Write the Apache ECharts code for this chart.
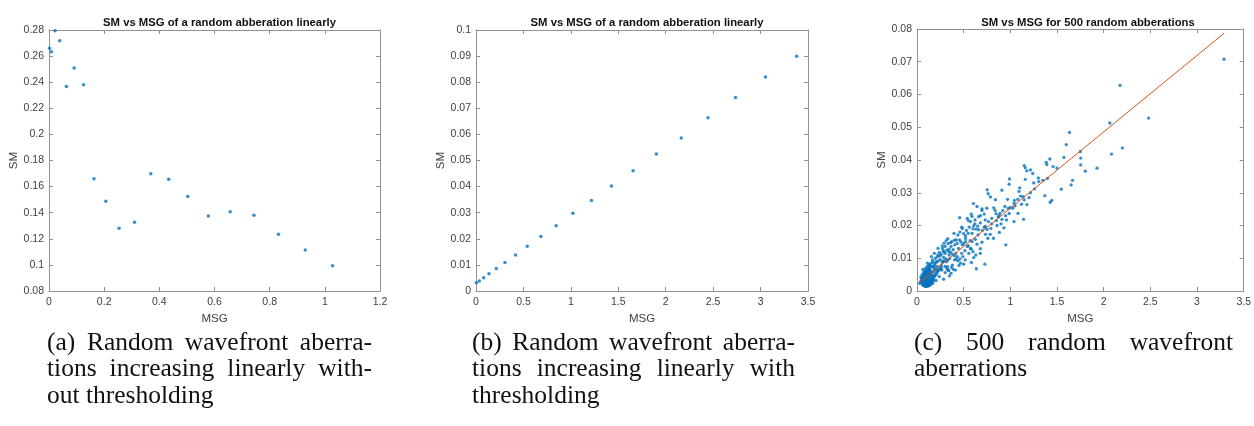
<!DOCTYPE html>
<html>
<head>
<meta charset="utf-8">
<script src="https://cdn.jsdelivr.net/npm/echarts@6/dist/echarts.min.js"></script>
<style>
html,body{margin:0;padding:0;background:#fff;}
#chart{width:1254px;height:426px;}
</style>
</head>
<body>
<div id="chart"></div>
<script>
// ---------- DATA ----------
var titles = [
  'SM vs MSG of a random abberation linearly',
  'SM vs MSG of a random abberation linearly',
  'SM vs MSG for 500 random abberations'
];
var xAxisName = 'MSG';
var yAxisName = 'SM';

// (a) without thresholding
var msgA = [0.002,0.0085,0.022,0.039,0.063,0.091,0.125,0.163,0.206,0.254,0.310,0.369,0.434,0.503,0.578,0.657,0.743,0.832,0.929,1.028];
var smA  = [0.2660,0.2634,0.2795,0.2718,0.2368,0.2509,0.2381,0.1661,0.1487,0.1280,0.1326,0.1699,0.1656,0.1525,0.1375,0.1408,0.1380,0.1234,0.1114,0.0994];

// (b) with thresholding
var msgB = [0.0035,0.035,0.081,0.137,0.214,0.305,0.417,0.540,0.684,0.845,1.021,1.217,1.428,1.656,1.901,2.164,2.445,2.736,3.052,3.381];
var smB  = [0.0032,0.0038,0.0051,0.0066,0.0086,0.0109,0.0138,0.0171,0.0209,0.0250,0.0298,0.0347,0.0402,0.0461,0.0525,0.0586,0.0664,0.0741,0.0820,0.0899];

// (c) 500 random aberrations
var pointsC = [
[3.289,0.0708],[2.175,0.0628],[2.481,0.0528],[2.066,0.0513],[2.200,0.0437],[2.084,0.0418],
[1.634,0.0484],[1.599,0.0447],[1.574,0.0408],[1.750,0.0426],[1.754,0.0406],[1.754,0.0385],
[1.803,0.0366],[1.929,0.0375],[1.666,0.0338],[1.651,0.0324],[1.546,0.0311],[1.500,0.0375],
[1.458,0.0380],[1.423,0.0403],[1.384,0.0393],[1.391,0.0386],[1.398,0.0344],[1.349,0.0338],
[1.304,0.0334],[1.370,0.0291],[1.444,0.0277],[1.427,0.0271],[1.258,0.0312],[1.216,0.0300],
[1.240,0.0359],[1.216,0.0370],[1.177,0.0367],[1.160,0.0341],[1.149,0.0383],[1.160,0.0376],
[1.093,0.0304],[1.110,0.0290],[1.138,0.0288],[1.149,0.0278],[1.177,0.0264],[1.142,0.0219],
[0.991,0.0342],[0.987,0.0326],[0.910,0.0308],[0.752,0.0309],[0.762,0.0297],[0.787,0.0287],
[0.840,0.0279],[1.044,0.0277],[1.040,0.0268],[1.026,0.0253],[0.977,0.0252],[0.987,0.0237],
[1.040,0.0212],[0.952,0.0141],[0.604,0.0267],[0.643,0.0258],[0.696,0.0251],[0.822,0.0254],
[0.836,0.0246],[0.847,0.0236],[0.871,0.0226],[0.910,0.0219],[0.931,0.0193],[0.882,0.0179],
[0.857,0.0200],[0.791,0.0191],[0.734,0.0173],[0.696,0.0149],[0.727,0.0082],[0.636,0.0068],
[0.457,0.0224],[0.485,0.0191],[0.590,0.0228],[0.622,0.0217],[0.660,0.0227],[0.678,0.0208],
[0.608,0.0199],[0.632,0.0189],[0.590,0.0176],[0.654,0.0171],[0.569,0.0154],[0.643,0.0143],
[0.678,0.0129],[0.678,0.0115],[0.608,0.0102],[0.583,0.0087],[0.517,0.0095],[0.513,0.0123],
[0.446,0.0130],[0.422,0.0156],[0.439,0.0171],[0.520,0.0168],[0.404,0.0141],[0.387,0.0126],
[0.415,0.0115],[0.404,0.0095],[0.411,0.0064],[0.348,0.0046],[0.313,0.0154],[0.334,0.0145],
[0.365,0.0136],[0.292,0.0120],[0.285,0.0103],[0.316,0.0089],[0.260,0.0079],[0.214,0.0062],
[0.225,0.0130],[0.186,0.0115],[0.165,0.0095],[0.134,0.0079],[0.112,0.0085],[0.095,0.0056],
[0.239,0.0044],[0.285,0.0036],[0.123,0.0069],[0.155,0.0105],[0.246,0.0107],[0.204,0.0090],
[0.267,0.0064],[0.327,0.0074],[0.365,0.0054],[0.467,0.0085],[0.485,0.0141],[0.538,0.0136],
[0.548,0.0176],[0.397,0.0176],[0.344,0.0110],[0.176,0.0044],[0.148,0.0054],[0.186,0.0064],
[0.063,0.0066],[0.053,0.0049],[0.074,0.0039],[0.105,0.0034],[0.134,0.0029],[0.046,0.0029],
[0.028,0.0023],[0.063,0.0018],[0.091,0.0015],[0.116,0.0015],[0.141,0.0018],[0.169,0.0023],
[0.204,0.0032],[0.084,0.0025],[0.105,0.0021],[0.127,0.0023],[0.155,0.0036],[0.056,0.0034],
[0.081,0.0046],[0.098,0.0044],[0.119,0.0048],[0.144,0.0046],[0.042,0.0042],[0.070,0.0056],
[0.091,0.0069],[0.109,0.0061],[0.134,0.0062],[0.169,0.0074],[0.193,0.0079],[0.221,0.0074],
[0.197,0.0100],[0.225,0.0110],[0.274,0.0130],[0.302,0.0136],[0.344,0.0128],[0.372,0.0151],
[0.281,0.0090],[0.239,0.0064],[0.302,0.0056],[0.334,0.0064],[0.379,0.0079],[0.432,0.0105],
[0.478,0.0115],[0.492,0.0105],[0.555,0.0115],[0.573,0.0130],[0.520,0.0151],[0.457,0.0156],
[0.590,0.0151],[0.625,0.0158],[0.660,0.0187],[0.731,0.0197],[0.766,0.0212],[0.801,0.0222],
[0.731,0.0217],[0.696,0.0246],[0.748,0.0253],[0.784,0.0173],[0.819,0.0161],[0.759,0.0161],
[0.942,0.0258],[0.959,0.0217],[0.889,0.0237],[1.082,0.0237],[0.538,0.0222],[0.573,0.0212],
[0.040,0.0030],[0.050,0.0025],[0.060,0.0020],[0.070,0.0022],[0.080,0.0019],[0.090,0.0021],
[0.100,0.0018],[0.110,0.0020],[0.120,0.0022],[0.130,0.0019],[0.140,0.0024],[0.150,0.0021],
[0.060,0.0030],[0.070,0.0034],[0.080,0.0028],[0.090,0.0031],[0.100,0.0027],[0.110,0.0030],
[0.120,0.0033],[0.130,0.0029],[0.140,0.0032],[0.160,0.0028],[0.170,0.0030],[0.050,0.0038],
[0.060,0.0042],[0.070,0.0040],[0.080,0.0037],[0.090,0.0044],[0.100,0.0040],[0.110,0.0039],
[0.120,0.0043],[0.130,0.0041],[0.150,0.0038],[0.180,0.0035],[0.070,0.0050],[0.080,0.0054],
[0.090,0.0049],[0.100,0.0052],[0.110,0.0056],[0.120,0.0050],[0.140,0.0053],[0.160,0.0049],
[0.190,0.0045],[0.080,0.0060],[0.100,0.0063],[0.120,0.0058],[0.130,0.0066],[0.150,0.0061],
[0.170,0.0058],[0.200,0.0055],[0.085,0.0016],[0.095,0.0014],[0.105,0.0016],[0.115,0.0015],
[0.125,0.0017],[0.075,0.0016],[0.065,0.0026],[0.135,0.0026],[0.145,0.0028],[0.155,0.0033],
[0.165,0.0038],[0.175,0.0042],[0.185,0.0048],[0.210,0.0051],[0.220,0.0058],[0.230,0.0065],
[0.250,0.0068],[0.260,0.0072],[0.200,0.0068],[0.180,0.0072],[0.160,0.0076],[0.140,0.0072],
[0.120,0.0070],[0.110,0.0075],[0.130,0.0080],[0.150,0.0085],[0.170,0.0088],[0.190,0.0083],
[0.210,0.0088],[0.230,0.0092],[0.250,0.0096],[0.270,0.0088],[0.290,0.0093],[0.310,0.0098],
[0.330,0.0094],[0.350,0.0099],[0.220,0.0105],[0.240,0.0118],[0.260,0.0112],[0.280,0.0122],
[0.300,0.0115],[0.320,0.0125],[0.340,0.0120],[0.360,0.0118],[0.380,0.0112],[0.400,0.0108],
[0.420,0.0098],[0.440,0.0092],[0.460,0.0098],[0.300,0.0075],[0.320,0.0068],[0.340,0.0062],
[0.370,0.0072],[0.390,0.0066],[0.450,0.0078],[0.500,0.0082],[0.270,0.0138],[0.290,0.0146],
[0.330,0.0160],[0.360,0.0148],[0.400,0.0155],[0.430,0.0145],[0.470,0.0150],[0.500,0.0145],
[0.520,0.0160],[0.550,0.0138],[0.580,0.0128],[0.600,0.0120],[0.630,0.0110],[0.530,0.0185],
[0.560,0.0195],[0.600,0.0190],[0.620,0.0205],[0.650,0.0198],[0.700,0.0185],[0.720,0.0195],
[0.750,0.0188],[0.800,0.0205],[0.850,0.0215],[0.880,0.0230],[0.900,0.0205],[0.920,0.0245],
[0.950,0.0230],[1.000,0.0255],[1.050,0.0260],[1.080,0.0280],[1.120,0.0265],[1.200,0.0285],
[1.250,0.0330],[1.300,0.0345],[1.100,0.0315],[0.970,0.0280],[0.680,0.0230],[0.720,0.0235],
[0.580,0.0235],[0.550,0.0215],[0.480,0.0195],[0.500,0.0175],[0.460,0.0180]
];
// least-squares fit line endpoints
var fitC = [[0.028,0.00255],[3.29,0.0787]];

// axis ranges / ticks
var xMin = [0, 0, 0], xMax = [1.2, 3.5, 3.5], xStep = [0.2, 0.5, 0.5];
var yMin = [0.08, 0, 0], yMax = [0.28, 0.1, 0.08], yStep = [0.02, 0.01, 0.01];

// captions
var captions = [
  [['(a) Random wavefront aberra-', true], ['tions increasing linearly with-', true], ['out thresholding', false]],
  [['(b) Random wavefront aberra-', true], ['tions increasing linearly with', true], ['thresholding', false]],
  [['(c) 500 random wavefront', true], ['aberrations', false]]
];

// ---------- LAYOUT ----------
var grids = [
  {left: 49, top: 30, width: 331, height: 261},
  {left: 476, top: 30, width: 332, height: 261},
  {left: 917, top: 29, width: 332, height: 262}
];
var capLeft = [47, 472, 914];
var capRight = [372, 795, 1233];
var capTop = [343, 369.5, 396];
var capFont = '25.5px "Liberation Serif"';
var yNameGap = [24, 28, 28];

var blue = '#0072BD', orange = '#D95319';
var axisColor = '#929292', labelColor = '#404040';
var sansFont = 'Liberation Sans';

var xAxes = [], yAxes = [], titleArr = [];
for (var i = 0; i < 3; i++) {
  var common = {
    gridIndex: i, type: 'value',
    axisLine: {show: true, onZero: false, lineStyle: {color: axisColor, width: 1}},
    axisTick: {show: true, inside: true, length: 4, lineStyle: {color: axisColor}},
    splitLine: {show: false}
  };
  xAxes.push(Object.assign({}, common, {
    position: 'bottom', min: xMin[i], max: xMax[i], interval: xStep[i],
    axisLabel: {color: labelColor, fontSize: 10.5, fontFamily: sansFont, margin: 6},
    name: xAxisName, nameLocation: 'middle', nameGap: 16,
    nameTextStyle: {color: labelColor, fontSize: 11.5, fontFamily: sansFont}
  }));
  xAxes.push(Object.assign({}, common, {
    position: 'top', min: xMin[i], max: xMax[i], interval: xStep[i],
    axisLabel: {show: false}
  }));
  yAxes.push(Object.assign({}, common, {
    position: 'left', min: yMin[i], max: yMax[i], interval: yStep[i],
    axisLabel: {color: labelColor, fontSize: 10.5, fontFamily: sansFont, margin: 5},
    name: yAxisName, nameLocation: 'middle', nameGap: yNameGap[i], nameRotate: 90,
    nameTextStyle: {color: labelColor, fontSize: 11.5, fontFamily: sansFont}
  }));
  yAxes.push(Object.assign({}, common, {
    position: 'right', min: yMin[i], max: yMax[i], interval: yStep[i],
    axisLabel: {show: false}
  }));
  titleArr.push({
    text: titles[i],
    left: grids[i].left + grids[i].width / 2,
    textAlign: 'center',
    top: 12,
    textStyle: {fontSize: 11.3, fontWeight: 'bold', color: '#111', fontFamily: sansFont}
  });
}

function zip(xs, ys) { return xs.map(function (x, k) { return [x, ys[k]]; }); }

var series = [
  {type: 'scatter', xAxisIndex: 0, yAxisIndex: 0, data: zip(msgA, smA), symbolSize: 3.5, itemStyle: {color: blue}, silent: true},
  {type: 'scatter', xAxisIndex: 2, yAxisIndex: 2, data: zip(msgB, smB), symbolSize: 3.5, itemStyle: {color: blue}, silent: true},
  {type: 'scatter', xAxisIndex: 4, yAxisIndex: 4, data: pointsC, symbolSize: 3.3, itemStyle: {color: blue}, silent: true},
  {type: 'line', xAxisIndex: 4, yAxisIndex: 4, data: fitC, showSymbol: false, lineStyle: {color: orange, width: 1}, silent: true}
];

// captions as graphic text, with justified lines
var measureCtx = document.createElement('canvas').getContext('2d');
measureCtx.font = capFont;
var graphics = [];
captions.forEach(function (lines, ci) {
  lines.forEach(function (ln, li) {
    var text = ln[0], justify = ln[1];
    var y = capTop[li];
    var words = justify ? text.split(' ') : [text];
    var widths = words.map(function (w) { return measureCtx.measureText(w).width; });
    var total = widths.reduce(function (a, b) { return a + b; }, 0);
    var gap = justify ? (capRight[ci] - capLeft[ci] - total) / (words.length - 1) : 0;
    var x = capLeft[ci];
    words.forEach(function (w, wi) {
      graphics.push({type: 'text', x: x, y: y, silent: true,
        style: {text: w, font: capFont, fill: '#111', verticalAlign: 'middle', textVerticalAlign: 'middle'}});
      x += widths[wi] + gap;
    });
  });
});

var chart = echarts.init(document.getElementById('chart'), null, {renderer: 'canvas'});
chart.setOption({
  animation: false,
  backgroundColor: '#ffffff',
  title: titleArr,
  grid: grids.map(function (g) { return Object.assign({containLabel: false}, g); }),
  xAxis: xAxes,
  yAxis: yAxes,
  series: series,
  graphic: graphics
});
</script>
</body>
</html>
